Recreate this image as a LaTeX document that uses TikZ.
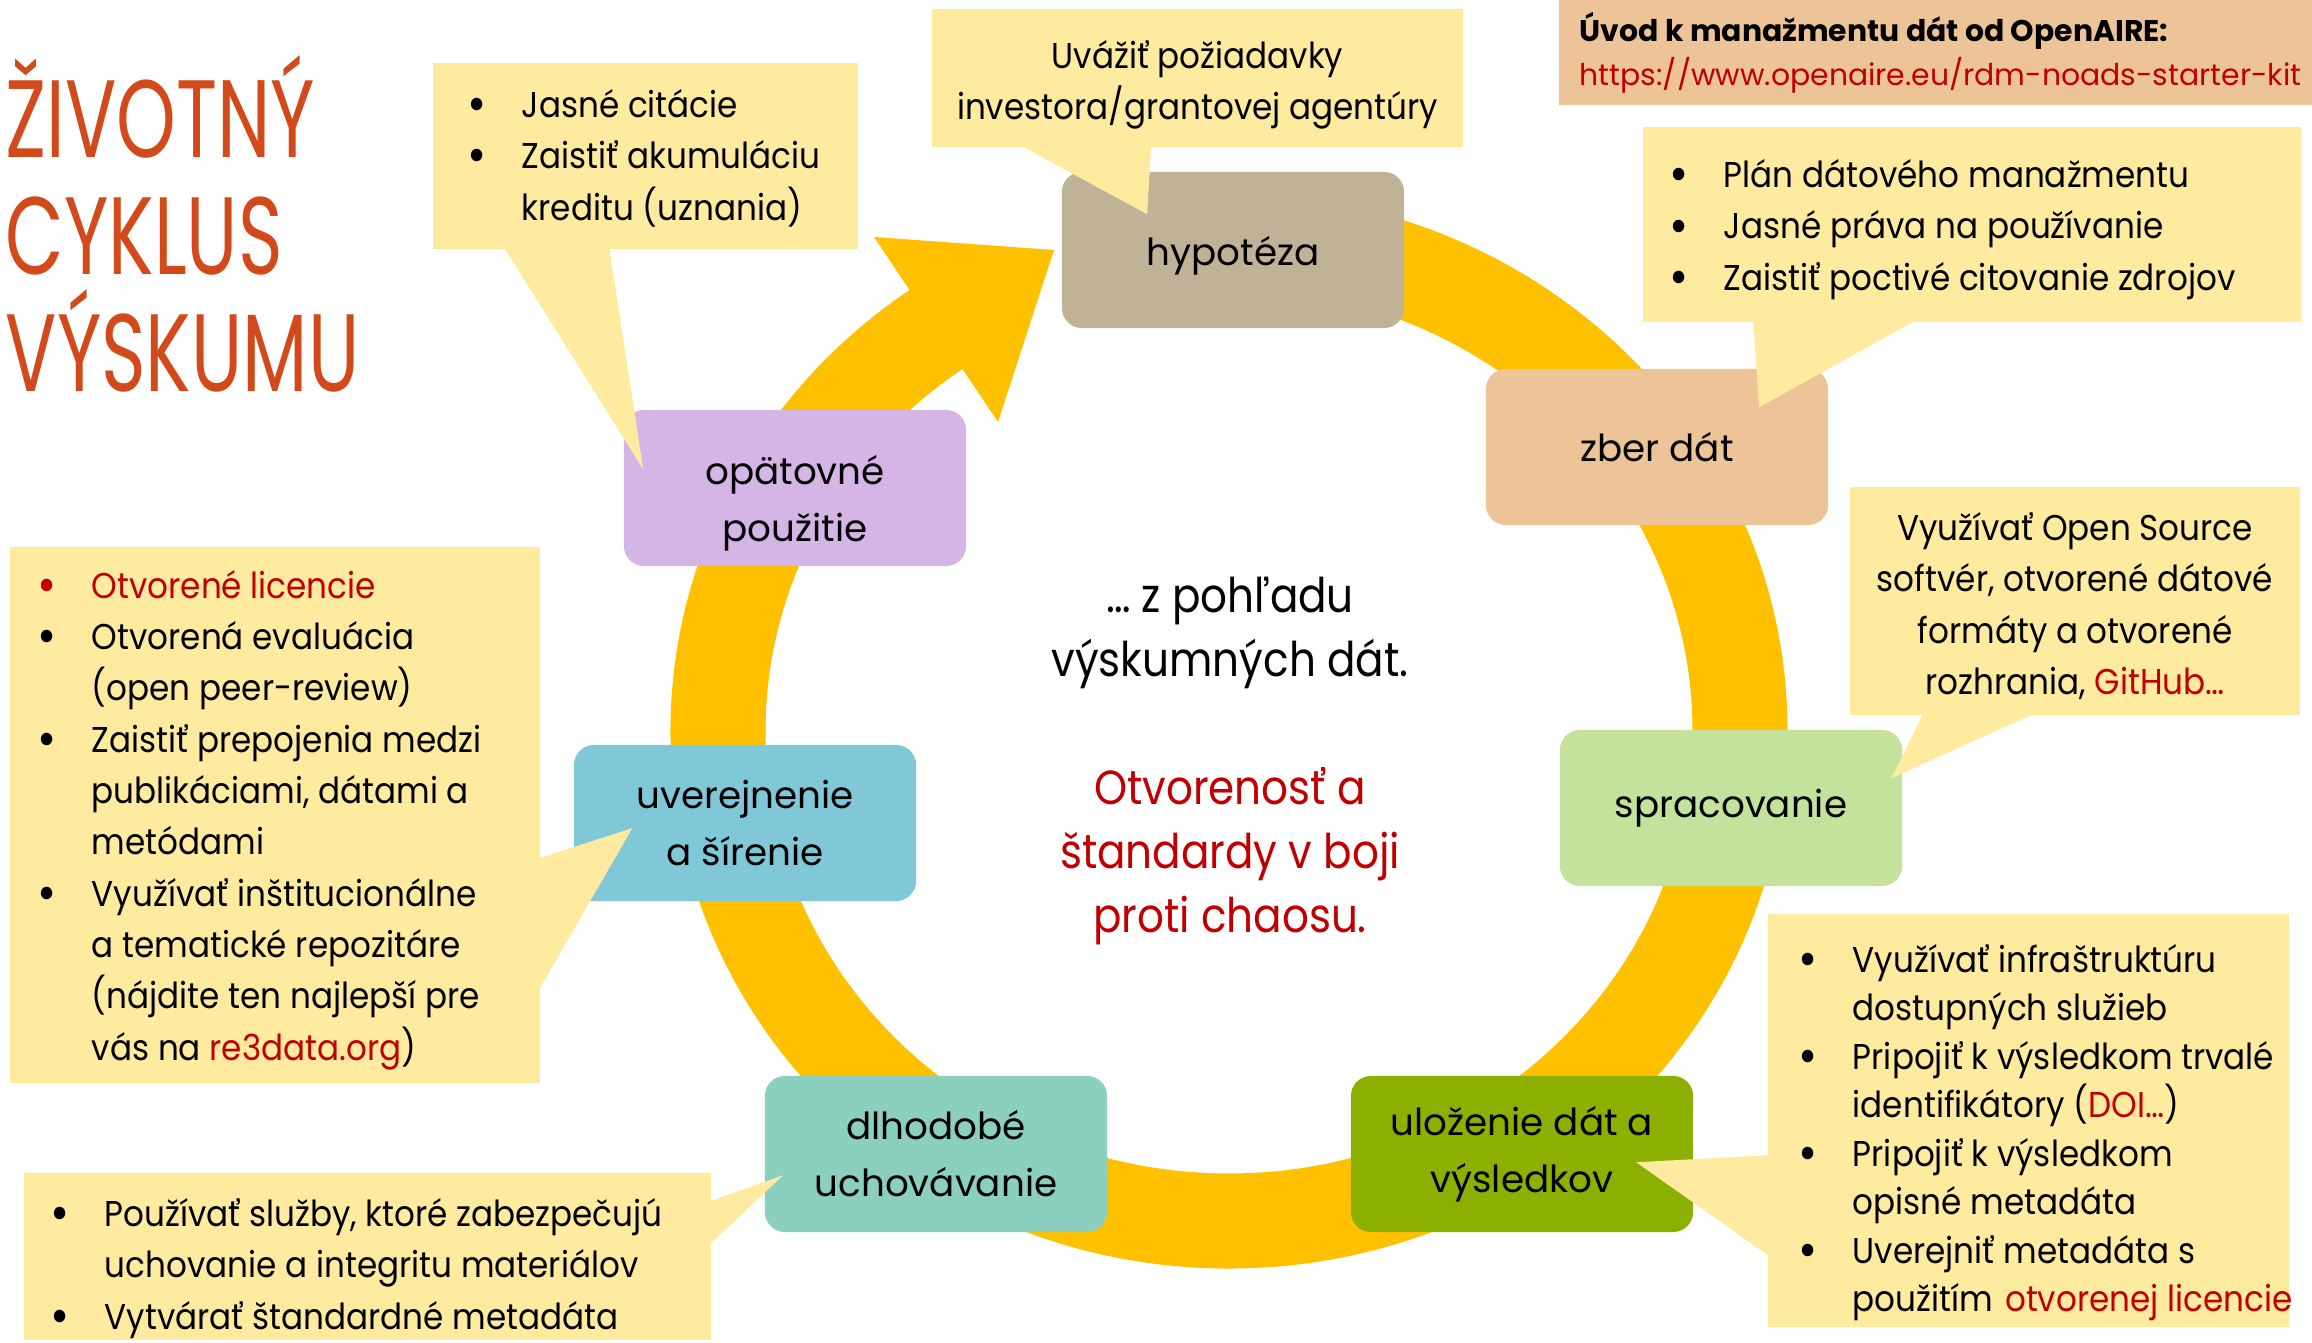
\documentclass[tikz,border=0pt]{standalone}
\usepackage{fontspec}
\setmainfont{Poppins}
\newfontfamily\notefam{Poppins}[FakeStretch=0.91]
\newfontfamily\midfam{Poppins}[FakeStretch=0.88]
\usetikzlibrary{calc}

\definecolor{ringc}{RGB}{255,192,0}
\definecolor{notebg}{RGB}{255,235,160}
\definecolor{oabg}{RGB}{237,195,152}
\definecolor{hypc}{RGB}{191,178,151}
\definecolor{zberc}{RGB}{237,195,152}
\definecolor{spracc}{RGB}{195,226,155}
\definecolor{ulozc}{RGB}{139,176,0}
\definecolor{dlhc}{RGB}{139,207,190}
\definecolor{uverc}{RGB}{128,200,216}
\definecolor{opatc}{RGB}{212,181,230}
\definecolor{redtxt}{RGB}{192,0,0}
\definecolor{titlec}{RGB}{210,74,27}

\newcommand{\notefont}{\notefam\fontsize{10.2}{14.6}\selectfont}
\newcommand{\notefontb}{\notefam\fontsize{10.2}{13.8}\selectfont}
\newcommand{\stagefont}{\fontsize{10.6}{16.2}\selectfont}
\newcommand{\midfont}{\midfam\fontsize{13.6}{18.2}\selectfont}
\newcommand{\oafont}{\fontsize{8.5}{12.5}\selectfont}
\newcommand{\titlefont}{\fontsize{31.3}{33.2}\selectfont}
\newcommand{\narrow}[1]{\scalebox{0.69}[1]{#1}}
\newcommand{\bul}{\makebox[0.54cm][l]{\raisebox{-0.12em}{\fontsize{14.5}{14.5}\selectfont\textbullet}}}
\newcommand{\cont}{\hspace*{0.54cm}}

\tikzset{
  stage/.style={rounded corners=0.2cm, minimum width=3.42cm, minimum height=1.56cm,
    inner sep=0pt, align=center, font=\stagefont},
  note/.style={fill=notebg, inner sep=0pt},
  notetext/.style={inner sep=0pt, align=left, font=\notefont, anchor=west},
  ring/.style={draw=ringc, line width=0.95cm}
}

\begin{document}
\begin{tikzpicture}[x=0.01cm, y=-0.01cm]
\useasboundingbox (0,0) rectangle (2312,1343);

% the cycle
\coordinate (c) at (1229,731);
\draw[ring] (c) ++(270:511 and 490) arc[start angle=270, end angle=597, x radius=511, y radius=490];
\fill[ringc] (874,237) -- (1054,250) -- (998,422) -- cycle;

% stages
\node[stage, fill=hypc] (hyp) at (1233,250) {\rule{0pt}{1.1em}hypotéza};
\node[stage, fill=zberc] (zber) at (1657,447) {zber dát};
\node[stage, fill=spracc] (sprac) at (1731,808) {spracovanie};
\node[stage, fill=ulozc] (uloz) at (1522,1154) {uloženie dát a\\výsledkov};
\node[stage, fill=dlhc] (dlh) at (936,1154) {dlhodobé\\uchovávanie};
\node[stage, fill=uverc] (uver) at (745,823) {uverejnenie\\a šírenie};
\node[stage, fill=opatc] (opat) at (795,488) {\rule{0pt}{1.6em}opätovné\\použitie};

% title and centre
\node[anchor=west, align=left, inner sep=0pt, font=\titlefont, text=titlec] (title) at (5,224)
  {\narrow{ŽIVOTNÝ}\\\narrow{CYKLUS}\\\narrow{VÝSKUMU}};
\node[align=center, font=\midfont] (view) at (1230,633) {… z pohľadu\\výskumných dát.};
\node[align=center, font=\midfont, text=redtxt] (motto) at (1230,856)
  {Otvorenosť a\\štandardy v boji\\proti chaosu.};

% OpenAIRE
\node[fill=oabg, minimum width=7.53cm, minimum height=1.05cm, inner sep=0pt] (oa) at (1935.5,52.5) {};
\node[notetext, font=\oafont] (oa-t) at ($(oa.west)+(21,0)$)
  {\textbf{Úvod k manažmentu dát od OpenAIRE:}\\\textcolor{redtxt}{https://www.openaire.eu/rdm-noads-starter-kit}};

% callouts
\node[note, minimum width=5.31cm, minimum height=1.38cm] (hypn) at (1197.5,78) {};
\fill[notebg] ($(hypn.south west)+(90,-2)$) -- ($(hyp.north west)+(86,43)$) -- ($(hypn.south west)+(220,-2)$) -- cycle;
\node[notetext, anchor=center, align=center] (hyp-t) at ($(hypn.center)+(0,7)$)
  {Uvážiť požiadavky\\investora/grantovej agentúry};

\node[note, minimum width=6.58cm, minimum height=1.95cm] (zbern) at (1972,224.5) {};
\fill[notebg] ($(zbern.south west)+(111,-2)$) -- ($(zber.north west)+(274,39)$) -- ($(zbern.south west)+(273,-2)$) -- cycle;
\node[notetext] (zber-t) at ($(zbern.west)+(27,5)$)
  {\bul Plán dátového manažmentu\\\bul Jasné práva na používanie\\\bul Zaistiť poctivé citovanie zdrojov};

\node[note, minimum width=4.5cm, minimum height=2.28cm] (spracn) at (2075,601) {};
\fill[notebg] ($(spracn.south west)+(74,-2)$) -- ($(sprac.north west)+(332,49)$) -- ($(spracn.south west)+(185,-2)$) -- cycle;
\node[notetext, anchor=center, align=center] (sprac-t) at ($(spracn.center)+(0,5)$)
  {Využívať Open Source\\softvér, otvorené dátové\\formáty a otvorené\\rozhrania, \textcolor{redtxt}{GitHub…}};

\node[note, minimum width=5.21cm, minimum height=4.13cm] (ulozn) at (2028.5,1120.5) {};
\fill[notebg] ($(ulozn.north west)+(2,242)$) -- ($(uloz.north west)+(286,87)$) -- ($(ulozn.north west)+(2,343)$) -- cycle;
\node[notetext, font=\notefontb] (uloz-t) at ($(ulozn.west)+(31,12)$)
  {\bul Využívať infraštruktúru\\\cont dostupných služieb\\\bul Pripojiť k výsledkom trvalé\\\cont identifikátory (\textcolor{redtxt}{DOI…})\\\bul Pripojiť k výsledkom\\\cont opisné metadáta\\\bul Uverejniť metadáta s\\\cont použitím\hspace{0.12cm}\textcolor{redtxt}{otvorenej licencie}};

\node[note, minimum width=6.87cm, minimum height=1.67cm] (dlhn) at (367.5,1256.5) {};
\fill[notebg] ($(dlhn.north east)+(-2,29)$) -- ($(dlh.north west)+(19,100)$) -- ($(dlhn.north east)+(-2,72)$) -- cycle;
\node[notetext] (dlh-t) at ($(dlhn.west)+(27,12)$)
  {\bul Používať služby, ktoré zabezpečujú\\\cont uchovanie a integritu materiálov\\\bul Vytvárať štandardné metadáta};

\node[note, minimum width=5.3cm, minimum height=5.36cm] (uvern) at (275,815) {};
\fill[notebg] ($(uvern.north east)+(-2,312)$) -- ($(uver.north west)+(59,84)$) -- ($(uvern.north east)+(-2,444)$) -- cycle;
\node[notetext] (uver-t) at ($(uvern.west)+(28,5)$)
  {{\color{redtxt}\bul Otvorené licencie}\\\bul Otvorená evaluácia\\\cont (open peer-review)\\\bul Zaistiť prepojenia medzi\\\cont publikáciami, dátami a\\\cont metódami\\\bul Využívať inštitucionálne\\\cont a tematické repozitáre\\\cont (nájdite ten najlepší pre\\\cont vás na \textcolor{redtxt}{re3data.org})};

\node[note, minimum width=4.25cm, minimum height=1.86cm] (opatn) at (645.5,156) {};
\fill[notebg] ($(opatn.south west)+(72,-2)$) -- ($(opat.north west)+(20,60)$) -- ($(opatn.south west)+(177,-2)$) -- cycle;
\node[notetext] (opat-t) at ($(opatn.west)+(35,2)$)
  {\bul Jasné citácie\\\bul Zaistiť akumuláciu\\\cont kreditu (uznania)};

\end{tikzpicture}
\end{document}
